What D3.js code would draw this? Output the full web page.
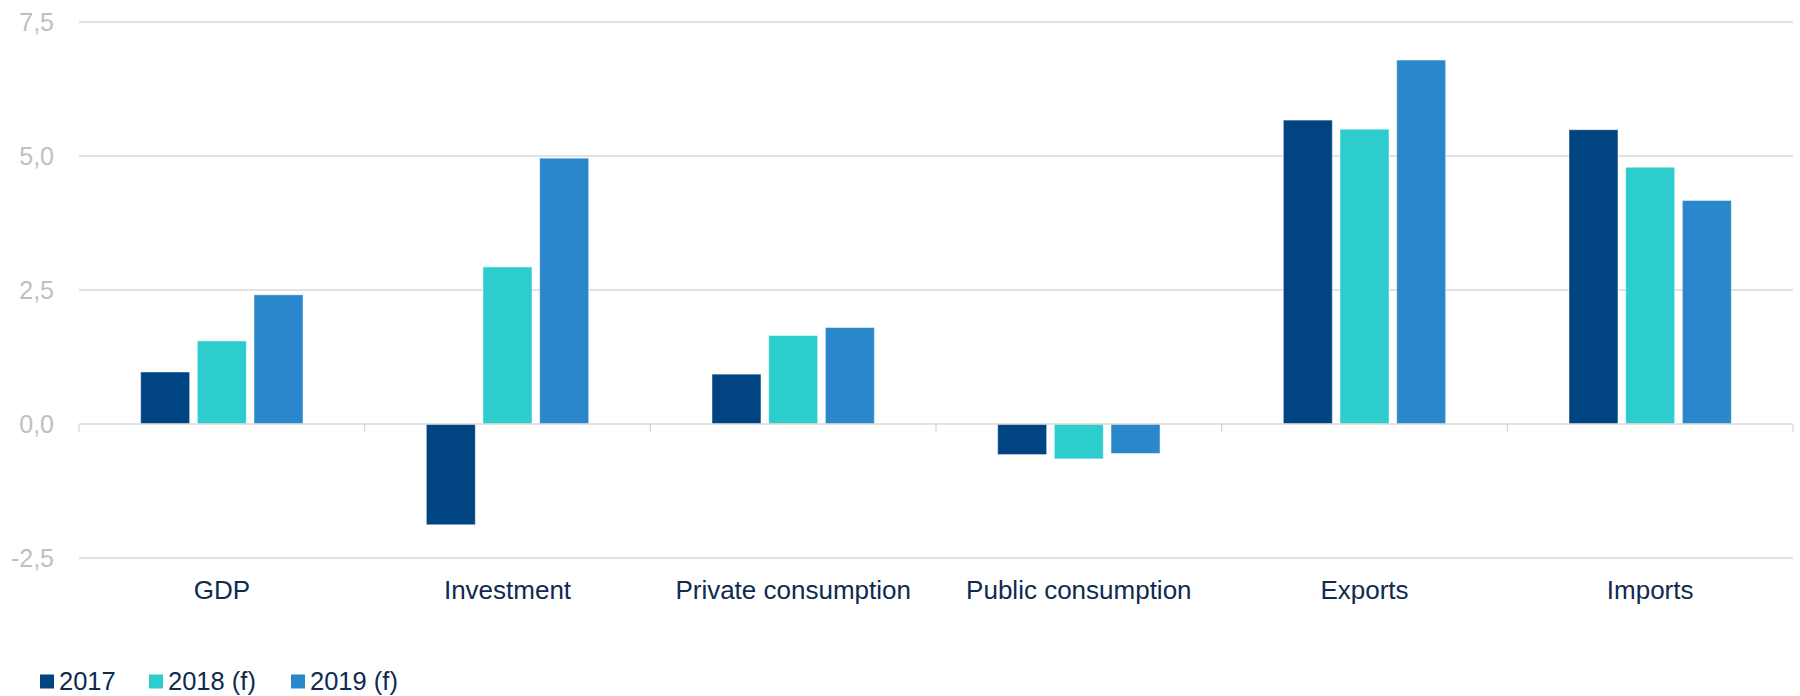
<!DOCTYPE html>
<html>
<head>
<meta charset="utf-8">
<script src="https://cdn.jsdelivr.net/npm/d3@7"></script>
<style>
  html, body { margin: 0; padding: 0; background: #ffffff; }
  svg { display: block; }
  text { font-family: "Liberation Sans", Arial, sans-serif; }
</style>
</head>
<body>
<svg id="chart" width="1800" height="696"></svg>
<script>
// Growth components, % change
const categories = ["GDP", "Investment", "Private consumption", "Public consumption", "Exports", "Imports"];
const seriesNames = ["2017", "2018 (f)", "2019 (f)"];
const values2017 = [0.97, -1.88, 0.93, -0.57, 5.67, 5.49];
const values2018 = [1.55, 2.93, 1.65, -0.65, 5.50, 4.79];
const values2019 = [2.41, 4.96, 1.80, -0.55, 6.79, 4.17];
const yTicks = [-2.5, 0, 2.5, 5, 7.5];
const colors = ["#004582", "#2ecdcd", "#2a87cb"];

const seriesValues = [values2017, values2018, values2019];

const svg = d3.select("#chart");
const plot = { left: 79, right: 1793, top: 22, bottom: 558 };

const y = d3.scaleLinear().domain([-2.5, 7.5]).range([plot.bottom, plot.top]);
const x0 = d3.scaleBand().domain(categories).range([plot.left, plot.right]).padding(0);
const x1 = d3.scaleBand().domain(seriesNames).range([0, x0.bandwidth()])
  .paddingInner(0.136).paddingOuter(1.088);
const color = d3.scaleOrdinal().domain(seriesNames).range(colors);

// Decimal comma, plain hyphen for negatives
const fmt = v => d3.format(".1f")(v).replace(".", ",").replace("\u2212", "-");

// Horizontal gridlines
svg.append("g")
  .selectAll("line")
  .data(yTicks.filter(t => t !== 0))
  .join("line")
  .attr("x1", plot.left).attr("x2", plot.right)
  .attr("y1", d => y(d)).attr("y2", d => y(d))
  .attr("stroke", "#d9d9d9").attr("stroke-width", 1.3);

// Y tick labels
svg.append("g")
  .selectAll("text")
  .data(yTicks)
  .join("text")
  .attr("x", 54)
  .attr("y", d => y(d) + 9)
  .attr("text-anchor", "end")
  .attr("font-size", 25)
  .attr("fill", "#bfbfbf")
  .text(fmt);

// Bars
const groups = svg.append("g")
  .selectAll("g")
  .data(categories)
  .join("g")
  .attr("transform", d => `translate(${x0(d)},0)`);

groups.selectAll("rect")
  .data((d, i) => seriesNames.map((s, k) => ({ s, v: seriesValues[k][i] })))
  .join("rect")
  .attr("x", d => x1(d.s))
  .attr("width", x1.bandwidth())
  .attr("y", d => y(Math.max(0, d.v)))
  .attr("height", d => Math.abs(y(d.v) - y(0)))
  .attr("fill", d => color(d.s))
  .attr("stroke", "#ffffff")
  .attr("stroke-opacity", 0.45)
  .attr("stroke-width", 1);

// Zero axis with category boundary ticks
const axis = svg.append("g");
axis.append("line")
  .attr("x1", plot.left).attr("x2", plot.right)
  .attr("y1", y(0)).attr("y2", y(0))
  .attr("stroke", "#d9d9d9").attr("stroke-width", 1.3);
const bounds = categories.map(c => x0(c)).concat([plot.right]);
axis.selectAll("line.tick")
  .data(bounds)
  .join("line")
  .attr("class", "tick")
  .attr("x1", d => d).attr("x2", d => d)
  .attr("y1", y(0)).attr("y2", y(0) + 8)
  .attr("stroke", "#d9d9d9").attr("stroke-width", 1.3);

// Category labels
svg.append("g")
  .selectAll("text")
  .data(categories)
  .join("text")
  .attr("x", d => x0(d) + x0.bandwidth() / 2)
  .attr("y", 599)
  .attr("text-anchor", "middle")
  .attr("font-size", 26)
  .attr("fill", "#0f2a4f")
  .text(d => d);

// Legend
const legendX = [40, 149, 291];
const legend = svg.append("g")
  .selectAll("g")
  .data(seriesNames)
  .join("g")
  .attr("transform", (d, i) => `translate(${legendX[i]},0)`);
legend.append("rect")
  .attr("x", 0).attr("y", 674.5)
  .attr("width", 14).attr("height", 14)
  .attr("fill", d => color(d));
legend.append("text")
  .attr("x", 19).attr("y", 690)
  .attr("font-size", 25.5)
  .attr("fill", "#0f2a4f")
  .text(d => d);
</script>
</body>
</html>
